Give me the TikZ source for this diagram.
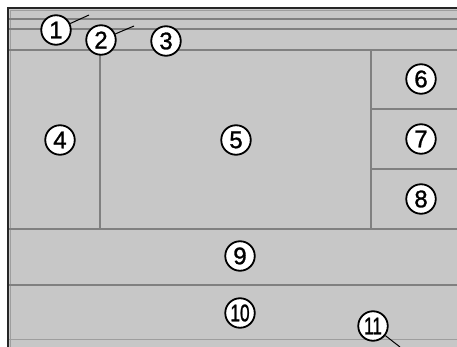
\documentclass[tikz,border=0pt]{standalone}
\usepackage{fontspec}
\setmainfont{Liberation Sans}
\newfontfamily\numfont[FakeBold=1.2]{Liberation Sans}
\begin{document}
\begin{tikzpicture}[x=1pt,y=-1pt,
  sep/.style={draw=black!50,line width=1.4pt},
  faint/.style={draw=black!38,line width=1pt},
  num/.style={circle,draw=black,fill=white,line width=1.8pt,minimum size=29.5pt,inner sep=0pt,font=\numfont\fontsize{24}{24}\selectfont},
  lead/.style={draw=black,line width=1pt}]
\useasboundingbox (0,0) rectangle (457,347);
\fill[white] (0,0) rectangle (457,347);
\fill[black!22] (8,8) rectangle (457,347);
% frame
\draw[line width=2pt,black!85] (8,347) -- (8,8) -- (457,8);
\draw[faint] (10,347) -- (10,11) -- (457,11);
% horizontal separators
\draw[sep] (9,19) -- (457,19);
\draw[sep] (9,29) -- (457,29);
\draw[sep] (9,50) -- (457,50);
\draw[sep] (100,50) -- (100,229);
\draw[sep] (371,50) -- (371,229);
\draw[sep] (371,109) -- (457,109);
\draw[sep] (371,169) -- (457,169);
\draw[sep] (9,229) -- (457,229);
\draw[sep] (9,285) -- (457,285);
\draw[faint] (9,339) -- (457,339);
% leader end points
\coordinate (e1) at (89,15);
\coordinate (e2) at (134,26);
\coordinate (e11) at (400,347);
% callouts
\node[num] (n1) at (56,30) {1};
\node[num] (n2) at (101,40) {2};
\node[num] (n3) at (166,41) {3};
\node[num] (n4) at (60,140) {4};
\node[num] (n5) at (236,140) {5};
\node[num] (n6) at (421,79) {6};
\node[num] (n7) at (421,139) {7};
\node[num] (n8) at (421,199) {8};
\node[num] (n9) at (240,256) {9};
\node[num] (n10) at (240,313) {\scalebox{0.72}[1]{10}};
\node[num] (n11) at (373,326) {\scalebox{0.72}[1]{11}};
\draw[lead] (n1) -- (e1);
\draw[lead] (n2) -- (e2);
\draw[lead] (n11) -- (e11);
\end{tikzpicture}
\end{document}
